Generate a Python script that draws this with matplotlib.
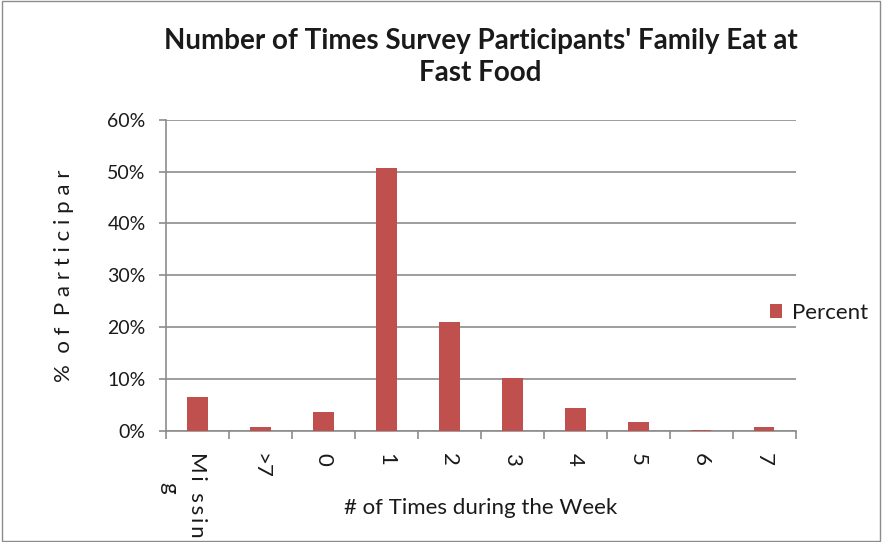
import matplotlib.pyplot as plt
from matplotlib.patches import Rectangle

categories = ["Missing", ">7", "0", "1", "2", "3", "4", "5", "6", "7"]
percent = [6.6, 0.7, 3.7, 50.7, 21.0, 10.2, 4.4, 1.8, 0.2, 0.7]
yticks = [0, 10, 20, 30, 40, 50, 60]
ytick_labels = ["0%", "10%", "20%", "30%", "40%", "50%", "60%"]

plt.rcParams['font.family'] = ['Lato', 'DejaVu Sans']
grey = "#8c8c8c"
txt = "#1a1a1a"

fig = plt.figure(figsize=(8.82, 5.42), dpi=100)
ax = fig.add_axes([0.188, 0.205, 0.714, 0.574])

x = list(range(len(categories)))
ax.bar(x, percent, width=0.33, color="#C0504D", label="Percent", zorder=3)

ax.set_xlim(-0.5, len(categories) - 0.5)
ax.set_ylim(0, 60)
ax.set_yticks(yticks)
ax.set_yticklabels(ytick_labels, fontsize=14, color=txt)
ax.yaxis.grid(True, color=grey, linewidth=1.2, zorder=0)

# ticks sit between the categories
ax.set_xticks([i - 0.5 for i in range(len(categories) + 1)])
ax.set_xticklabels([])
ax.tick_params(axis="x", length=6, width=1.2, color=grey)
ax.tick_params(axis="y", length=5, width=1.2, color=grey, pad=9.5)

# rotated category labels (the first one wraps like in the original)
for i, lab in enumerate(categories):
    if lab == "Missing":
        ax.text(i, -4.0, "M\u2009i  s\u2009s\u2009i\u2009n", rotation=270,
                ha="center", va="top", fontsize=16, color=txt)
        ax.text(i - 0.45, -9.8, "g", rotation=270, ha="center", va="top",
                fontsize=16, color=txt)
    else:
        ax.text(i, -4.2, lab, rotation=270, ha="center", va="top",
                fontsize=16, color=txt)

for s in ["top", "right"]:
    ax.spines[s].set_visible(False)
for s in ["left", "bottom"]:
    ax.spines[s].set_color(grey)
    ax.spines[s].set_linewidth(1.2)

ax.set_xlabel("# of Times during the Week", fontsize=16, labelpad=39, color=txt)
ax.set_ylabel("%  o f  P a r t i c i p a r", fontsize=16, labelpad=24, color=txt)
ax.set_title("Number of Times Survey Participants' Family Eat at\nFast Food",
             fontsize=20, fontweight="bold", pad=28, linespacing=1.3, color=txt)

fig.legend(*ax.get_legend_handles_labels(), loc="center left",
           bbox_to_anchor=(0.873, 0.4225), frameon=False, borderpad=0,
           borderaxespad=0, fontsize=16, handlelength=0.55, handleheight=0.6,
           handletextpad=0.45, labelcolor=txt)

fig.patches.append(Rectangle((0.002, 0.002), 0.996, 0.996, transform=fig.transFigure,
                             fill=False, edgecolor=grey, linewidth=1))

fig.savefig("out.png", dpi=100)
